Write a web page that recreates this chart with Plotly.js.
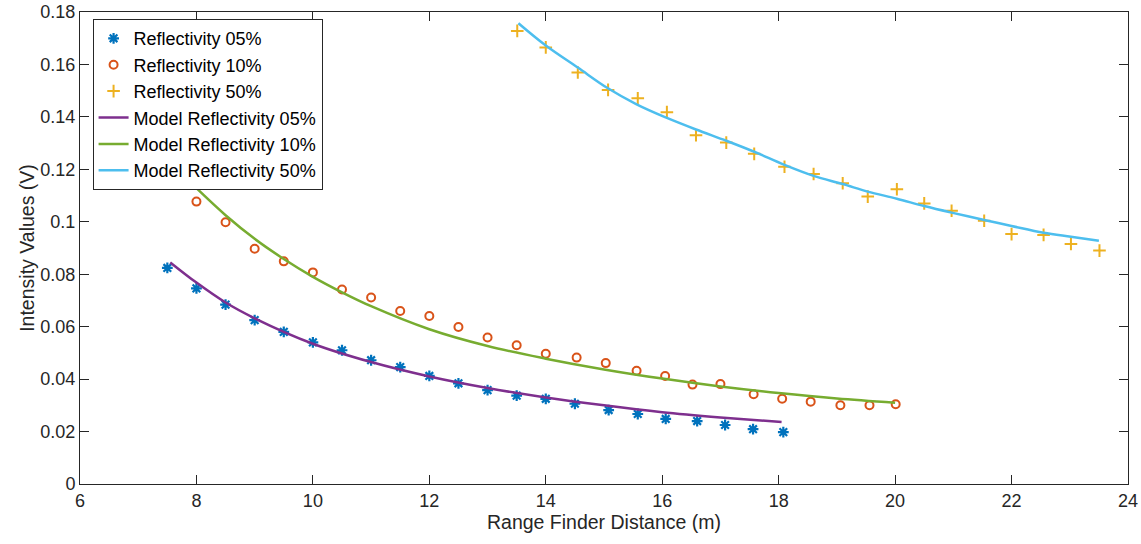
<!DOCTYPE html>
<html>
<head>
<meta charset="utf-8">
<script src="https://cdn.plot.ly/plotly-3.0.1.min.js"></script>
<style>html,body{margin:0;padding:0;background:#fff;}#chart{width:1141px;height:544px;}</style>
</head>
<body>
<div id="chart"></div>
<script>
// Measured data
const x05 = [7.5, 8, 8.5, 9, 9.5, 10, 10.5, 11, 11.5, 12, 12.5, 13, 13.5, 14, 14.5, 15.08, 15.58, 16.06, 16.6, 17.08, 17.56, 18.08];
const y05 = [0.0824, 0.0746, 0.0684, 0.0625, 0.058, 0.054, 0.051, 0.0472, 0.0446, 0.0412, 0.0384, 0.0358, 0.0337, 0.0325, 0.0306, 0.0282, 0.0267, 0.0248, 0.024, 0.0225, 0.0209, 0.0198];

const x10 = [8, 8.5, 9, 9.5, 10, 10.5, 11, 11.5, 12, 12.5, 13, 13.5, 14, 14.53, 15.03, 15.56, 16.05, 16.52, 17, 17.57, 18.06, 18.55, 19.06, 19.56, 20.01];
const y10 = [0.1077, 0.0998, 0.0897, 0.0849, 0.0807, 0.0742, 0.0711, 0.066, 0.0641, 0.0599, 0.0559, 0.0529, 0.0497, 0.0482, 0.0461, 0.0432, 0.0412, 0.0379, 0.0381, 0.0342, 0.0325, 0.0314, 0.03, 0.03, 0.0304];

const x50 = [13.51, 14, 14.55, 15.07, 15.58, 16.08, 16.58, 17.1, 17.58, 18.1, 18.6, 19.1, 19.53, 20.03, 20.5, 20.97, 21.53, 22, 22.55, 23.02, 23.51];
const y50 = [0.1728, 0.1665, 0.1569, 0.1503, 0.1471, 0.1418, 0.133, 0.1302, 0.1259, 0.121, 0.1182, 0.1147, 0.1096, 0.1124, 0.107, 0.1042, 0.1004, 0.0953, 0.095, 0.0915, 0.089];

// Model curves
const xm05 = [7.55, 8, 8.5, 9, 10, 11, 12, 13, 14, 15, 16, 17, 18.05];
const ym05 = [0.0845, 0.0768, 0.0692, 0.0632, 0.0535, 0.0465, 0.041, 0.0366, 0.033, 0.03, 0.0274, 0.0254, 0.0236];

const xm10 = [8, 8.5, 9, 9.5, 10, 10.5, 11, 12, 13, 14, 15, 16, 17, 18, 19, 20];
const ym10 = [0.1128, 0.1025, 0.0935, 0.0858, 0.079, 0.0731, 0.0678, 0.059, 0.0526, 0.0478, 0.0437, 0.0402, 0.0372, 0.0347, 0.0326, 0.031];

const xm50 = [13.53, 14, 14.55, 15.06, 15.56, 16.06, 16.58, 17.1, 17.58, 18.1, 18.6, 19.1, 19.53, 20.03, 20.5, 20.97, 21.53, 22, 22.55, 23.02, 23.5];
const ym50 = [0.1757, 0.1672, 0.1588, 0.151, 0.1448, 0.1398, 0.1352, 0.1309, 0.1267, 0.1217, 0.1175, 0.1144, 0.1115, 0.1088, 0.106, 0.1035, 0.1007, 0.0984, 0.0958, 0.0943, 0.0928];

const names = ['Reflectivity 05%', 'Reflectivity 10%', 'Reflectivity 50%',
  'Model Reflectivity 05%', 'Model Reflectivity 10%', 'Model Reflectivity 50%'];

const traces = [
  {x: x05, y: y05, name: names[0], mode: 'markers', type: 'scatter',
   marker: {symbol: 'asterisk-open', size: 9, color: '#0072BD', line: {color: '#0072BD', width: 2.2}}},
  {x: x10, y: y10, name: names[1], mode: 'markers', type: 'scatter',
   marker: {symbol: 'circle-open', size: 8, color: '#D95319', line: {color: '#D95319', width: 2}}},
  {x: x50, y: y50, name: names[2], mode: 'markers', type: 'scatter',
   marker: {symbol: 'cross-thin-open', size: 9, color: '#EDB120', line: {color: '#EDB120', width: 2}}},
  {x: xm05, y: ym05, name: names[3], mode: 'lines', type: 'scatter',
   line: {color: '#7E2F8E', width: 2.5, shape: 'spline', smoothing: 1}},
  {x: xm10, y: ym10, name: names[4], mode: 'lines', type: 'scatter',
   line: {color: '#77AC30', width: 2.5, shape: 'spline', smoothing: 1}},
  {x: xm50, y: ym50, name: names[5], mode: 'lines', type: 'scatter',
   line: {color: '#4DBEEE', width: 2.5, shape: 'spline', smoothing: 1}}
];

const layout = {
  width: 1141, height: 544,
  margin: {l: 80, r: 13, t: 12, b: 60},
  paper_bgcolor: '#fff', plot_bgcolor: '#fff',
  font: {family: 'Liberation Sans, Arial, sans-serif', size: 18, color: '#262626'},
  showlegend: true,
  legend: {x: 0.012, y: 0.985, xanchor: 'left', yanchor: 'top',
    bgcolor: '#fff', bordercolor: '#262626', borderwidth: 1,
    font: {size: 18, color: '#000'}, tracegroupgap: 0},
  xaxis: {range: [6, 24], tickvals: [6, 8, 10, 12, 14, 16, 18, 20, 22, 24],
    showgrid: false, zeroline: false, showline: true, linecolor: '#262626', linewidth: 1,
    mirror: 'ticks', ticks: 'inside', ticklen: 9, tickcolor: '#262626',
    tickfont: {size: 18, color: '#262626'},
    title: {text: 'Range Finder Distance (m)', font: {size: 19.5, color: '#262626'}, standoff: 4}},
  yaxis: {range: [0, 0.18], tickvals: [0, 0.02, 0.04, 0.06, 0.08, 0.1, 0.12, 0.14, 0.16, 0.18],
    ticktext: ['0', '0.02', '0.04', '0.06', '0.08', '0.1', '0.12', '0.14', '0.16', '0.18'],
    showgrid: false, zeroline: false, showline: true, linecolor: '#262626', linewidth: 1,
    mirror: 'ticks', ticks: 'inside', ticklen: 9, tickcolor: '#262626',
    tickfont: {size: 18, color: '#262626'},
    title: {text: 'Intensity Values (V)', font: {size: 19.5, color: '#262626'}, standoff: 0}}
};

Plotly.newPlot('chart', traces, layout, {displayModeBar: false, staticPlot: true});
</script>
</body>
</html>
